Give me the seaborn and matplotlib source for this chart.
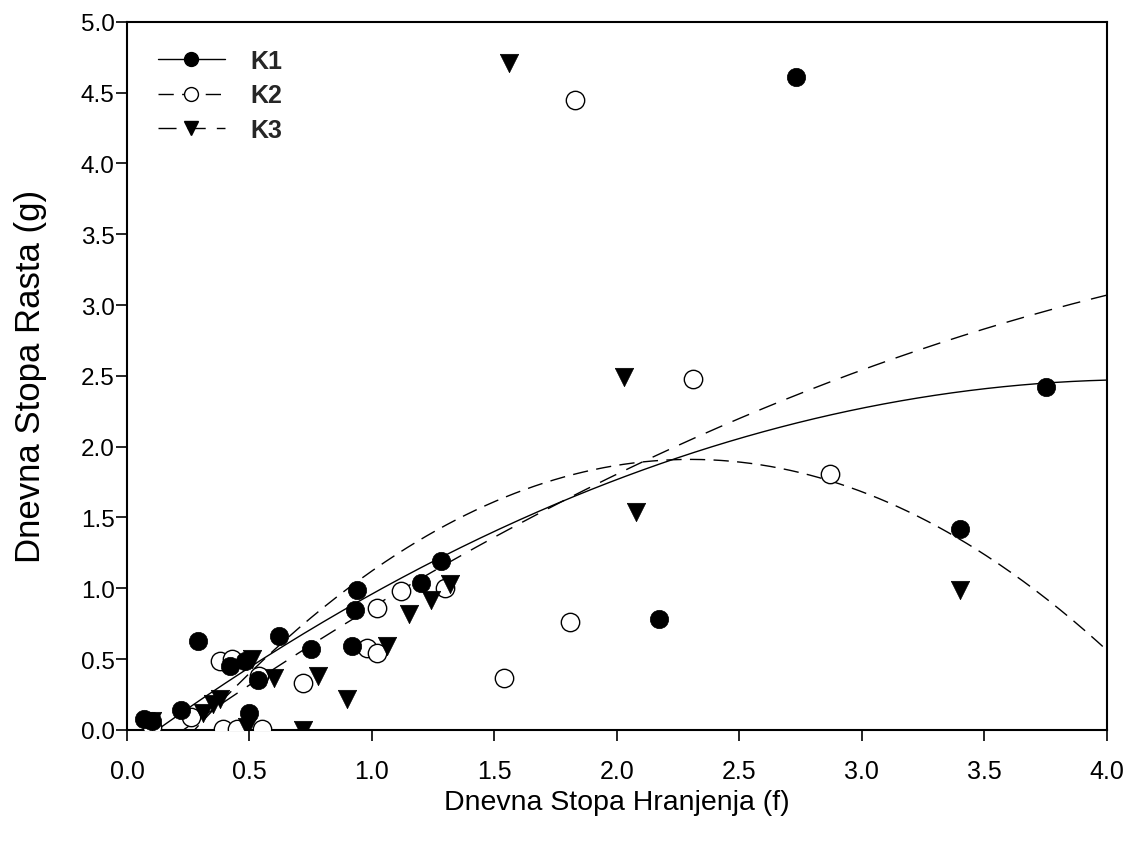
import numpy as np
import pandas as pd
import matplotlib
matplotlib.use("Agg")
import matplotlib.pyplot as plt
from matplotlib.lines import Line2D
import seaborn as sns

# ---- data ----
k1_x = [0.07, 0.10, 0.22, 0.29, 0.42, 0.48, 0.50, 0.535, 0.62, 0.75, 0.92, 0.93, 0.94, 1.20, 1.28, 2.17, 2.73, 3.40, 3.75]
k1_y = [0.08, 0.06, 0.14, 0.63, 0.45, 0.49, 0.12, 0.35, 0.66, 0.57, 0.59, 0.85, 0.99, 1.04, 1.19, 0.78, 4.61, 1.42, 2.42]

k2_x = [0.10, 0.26, 0.38, 0.39, 0.43, 0.45, 0.54, 0.55, 0.72, 0.98, 1.02, 1.02, 1.12, 1.30, 1.54, 1.81, 1.83, 2.31, 2.87]
k2_y = [0.02, 0.09, 0.49, 0.01, 0.50, 0.01, 0.38, 0.01, 0.33, 0.58, 0.54, 0.86, 0.98, 1.00, 0.37, 0.76, 4.45, 2.48, 1.81]

k3_x = [0.10, 0.31, 0.35, 0.38, 0.49, 0.51, 0.60, 0.72, 0.78, 0.90, 1.06, 1.15, 1.24, 1.32, 1.56, 2.03, 2.08, 3.40]
k3_y = [0.06, 0.12, 0.18, 0.22, 0.02, 0.50, 0.37, 0.00, 0.38, 0.22, 0.59, 0.82, 0.92, 1.03, 4.71, 2.49, 1.54, 0.99]

# quadratic regression coefficients (highest power first)
k1_fit = [-0.1524, 1.2655, -0.1534]
k2_fit = [-0.466, 2.1436, -0.555]
k3_fit = [-0.103, 1.250, -0.282]

series_names = ["K1", "K2", "K3"]
x_ticks = [0.0, 0.5, 1.0, 1.5, 2.0, 2.5, 3.0, 3.5, 4.0]
y_ticks = [0.0, 0.5, 1.0, 1.5, 2.0, 2.5, 3.0, 3.5, 4.0, 4.5, 5.0]
x_label = "Dnevna Stopa Hranjenja (f)"
y_label = "Dnevna Stopa Rasta (g)"

# ---- plotting ----
sns.set_theme(style="white")
plt.rcParams["font.family"] = ["Liberation Sans", "DejaVu Sans"]

fig = plt.figure(figsize=(11.34, 8.45), dpi=100)
ax = fig.add_axes([0.112, 0.135, 0.864, 0.838])

grid = np.linspace(0.0, 4.0, 400)
curves = pd.DataFrame({
    "x": np.concatenate([grid, grid, grid]),
    "y": np.concatenate([np.polyval(k1_fit, grid), np.polyval(k2_fit, grid), np.polyval(k3_fit, grid)]),
    "s": ["K1"] * len(grid) + ["K2"] * len(grid) + ["K3"] * len(grid),
})

dash_k2 = (11, 6)
dash_k3 = (13, 8)
styles = {"K1": "-", "K2": (0, dash_k2), "K3": (0, dash_k3)}
for name in series_names:
    sub = curves[curves["s"] == name]
    sns.lineplot(data=sub, x="x", y="y", ax=ax, color="black", linewidth=1.0,
                 linestyle=styles[name], estimator=None, sort=False, zorder=2)

msize = 175
sns.scatterplot(x=k2_x, y=k2_y, ax=ax, marker="o", s=msize, facecolor="white",
                edgecolor="black", linewidth=1.0, zorder=3)
sns.scatterplot(x=k1_x, y=k1_y, ax=ax, marker="o", s=msize, color="black",
                edgecolor="black", linewidth=0.5, zorder=4)
sns.scatterplot(x=k3_x, y=k3_y, ax=ax, marker="v", s=msize, color="black",
                edgecolor="black", linewidth=0.5, zorder=4)

ax.set_xlim(0, 4.0)
ax.set_ylim(0, 5.0)
ax.set_xticks(x_ticks)
ax.set_yticks(y_ticks)
ax.set_xticklabels([f"{v:.1f}" for v in x_ticks], fontsize=18)
ax.set_yticklabels([f"{v:.1f}" for v in y_ticks], fontsize=17.5)
ax.tick_params(axis="both", which="both", direction="out", length=8, width=1.2,
               colors="black", bottom=True, left=True, top=False, right=False)
ax.tick_params(axis="x", pad=13)
ax.tick_params(axis="y", pad=1)
for sp in ax.spines.values():
    sp.set_visible(True)
    sp.set_color("black")
    sp.set_linewidth(1.5)
ax.set_xlabel(x_label, fontsize=20.5, color="black", labelpad=4)
ax.set_ylabel(y_label, fontsize=25, color="black", labelpad=24)
ax.grid(False)

handles = [
    Line2D([], [], color="black", linestyle="-", linewidth=1.0, marker="o", markersize=10,
           markerfacecolor="black", markeredgecolor="black"),
    Line2D([], [], color="black", linestyle=(0, dash_k2), linewidth=1.0, marker="o", markersize=10,
           markerfacecolor="white", markeredgecolor="black"),
    Line2D([], [], color="black", linestyle=(0, dash_k3), linewidth=1.0, marker="v", markersize=10,
           markerfacecolor="black", markeredgecolor="black"),
]
leg = ax.legend(handles, series_names, loc="upper left", frameon=False,
                prop={"size": 18, "weight": "bold"},
                handlelength=2.7, handletextpad=1.0, labelspacing=0.42,
                bbox_to_anchor=(0.016, 0.983), borderaxespad=0.2)

fig.savefig("out.png", dpi=100, facecolor="white")
